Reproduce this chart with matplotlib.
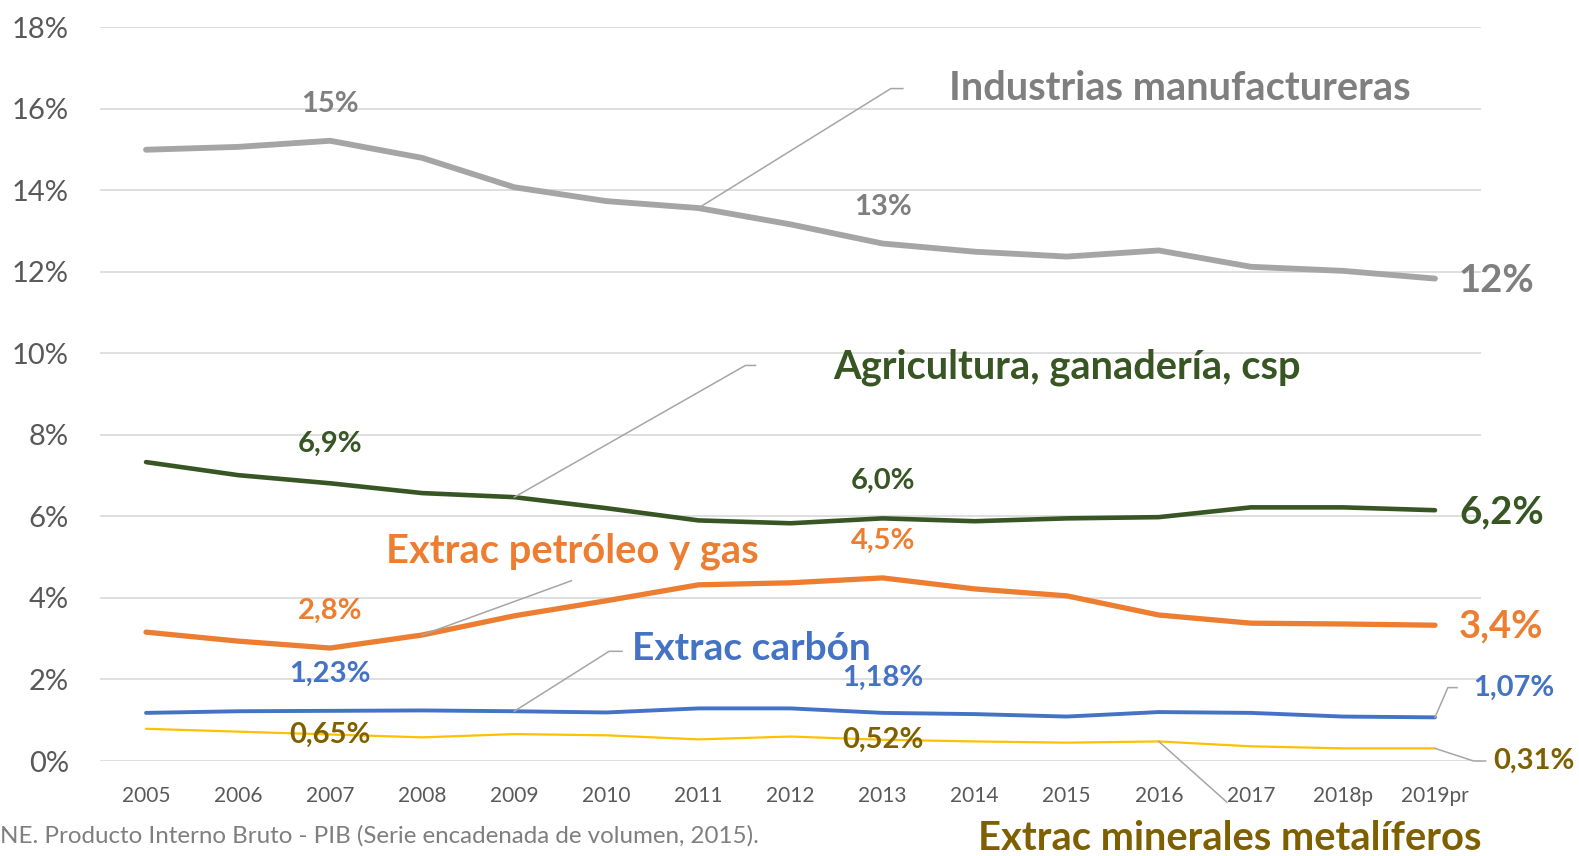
import matplotlib
matplotlib.use("Agg")
import matplotlib.pyplot as plt

years = ["2005", "2006", "2007", "2008", "2009", "2010", "2011", "2012",
         "2013", "2014", "2015", "2016", "2017", "2018p", "2019pr"]

manufactura = [14.99, 15.06, 15.21, 14.79, 14.07, 13.73, 13.56, 13.16,
               12.69, 12.49, 12.37, 12.52, 12.12, 12.02, 11.83]
agricultura = [7.33, 7.01, 6.81, 6.57, 6.47, 6.20, 5.90, 5.83,
               5.95, 5.88, 5.95, 5.98, 6.22, 6.22, 6.15]
petroleo = [3.16, 2.94, 2.77, 3.09, 3.56, 3.93, 4.32, 4.37,
            4.49, 4.22, 4.05, 3.58, 3.38, 3.36, 3.33]
carbon = [1.18, 1.22, 1.23, 1.24, 1.22, 1.19, 1.29, 1.29,
          1.18, 1.15, 1.09, 1.20, 1.18, 1.09, 1.07]
minerales = [0.79, 0.72, 0.65, 0.58, 0.66, 0.63, 0.53, 0.60,
             0.52, 0.48, 0.45, 0.48, 0.36, 0.31, 0.31]

labels_manuf = ["15%", "13%", "12%"]
labels_agri = ["6,9%", "6,0%", "6,2%"]
labels_petro = ["2,8%", "4,5%", "3,4%"]
labels_carbon = ["1,23%", "1,18%", "1,07%"]
labels_miner = ["0,65%", "0,52%", "0,31%"]

yticks = [0, 2, 4, 6, 8, 10, 12, 14, 16, 18]
ytick_labels = [f"{t}%" for t in yticks]

fuente = "NE. Producto Interno Bruto - PIB (Serie encadenada de volumen, 2015)."

GRIS = "#A5A5A5"
GRIS_TXT = "#7F7F7F"
VERDE = "#375623"
NARANJA = "#ED7D31"
AZUL = "#4472C4"
AMARILLO = "#FFC000"
OLIVA = "#7F6000"
LEADER = "#A6A6A6"

plt.rcParams["font.family"] = ["Lato", "DejaVu Sans"]

fig = plt.figure(figsize=(15.79, 8.56), dpi=100)
ax = fig.add_axes([100 / 1579, 1 - 761 / 856, (1481 - 100) / 1579, (761 - 27) / 856])

x = list(range(len(years)))
ax.plot(x, manufactura, color=GRIS, lw=4.2, solid_capstyle="round", zorder=3)
ax.plot(x, agricultura, color=VERDE, lw=3.3, solid_capstyle="round", zorder=3)
ax.plot(x, petroleo, color=NARANJA, lw=3.8, solid_capstyle="round", zorder=3)
ax.plot(x, carbon, color=AZUL, lw=2.8, solid_capstyle="round", zorder=3)
ax.plot(x, minerales, color=AMARILLO, lw=1.6, solid_capstyle="round", zorder=3)

ax.set_xlim(-0.5, len(years) - 0.5)
ax.set_ylim(0, 18)
ax.set_yticks(yticks)
ax.set_yticklabels(ytick_labels)
ax.set_xticks(x)
ax.set_xticklabels(years)
ax.tick_params(axis="y", length=0, pad=22.5, labelsize=21, labelcolor="#595959")
ax.tick_params(axis="x", length=0, pad=18, labelsize=15, labelcolor="#595959")
ax.grid(axis="y", color="#D9D9D9", lw=1.2)
ax.set_axisbelow(True)
for s in ax.spines.values():
    s.set_visible(False)


def etiquetas(serie, textos, color, dys, last_size=27.5):
    for k, i in enumerate([2, 8]):
        ax.annotate(textos[k], xy=(i, serie[i]), xytext=(0, dys[k]),
                    textcoords="offset pixels", ha="center", va="center",
                    fontsize=21, fontweight="bold", color=color, zorder=5)
    if last_size:
        ax.annotate(textos[2], xy=(14, serie[14]), xytext=(24, dys[2]),
                    textcoords="offset pixels", ha="left", va="center",
                    fontsize=last_size, fontweight="bold", color=color,
                    annotation_clip=False, zorder=5)


etiquetas(manufactura, labels_manuf, GRIS_TXT, [37, 37, -2])
etiquetas(agricultura, labels_agri, VERDE, [39, 38, -2])
etiquetas(petroleo, labels_petro, NARANJA, [37, 37, -1])
etiquetas(carbon, labels_carbon, AZUL, [37, 35, 0], last_size=0)
etiquetas(minerales, labels_miner, OLIVA, [0, 0, 0], last_size=0)


def nombre(texto, color, i, serie, codo, fin, pos, size=28.7):
    xs = [i, codo[0]] + ([fin] if fin is not None else [])
    ys = [serie[i], codo[1]] + ([codo[1]] if fin is not None else [])
    ax.plot(xs, ys, color=LEADER, lw=1.1, zorder=4, clip_on=False)
    ax.text(pos[0], pos[1], texto, color=color, fontsize=size,
            fontweight="bold", ha="center", va="center", clip_on=False)


nombre("Industrias manufactureras", GRIS_TXT, 6, manufactura,
       (8.09, 16.49), 8.22, (11.23, 16.49))
nombre("Agricultura, ganadería, csp", VERDE, 4, agricultura,
       (6.51, 9.70), 6.62, (10.0, 9.65))
nombre("Extrac petróleo y gas", NARANJA, 3, petroleo,
       (4.62, 4.42), None, (4.63, 5.14))
nombre("Extrac carbón", AZUL, 4, carbon,
       (5.03, 2.69), 5.17, (6.57, 2.76), size=28)
nombre("Extrac minerales metalíferos", OLIVA, 11, minerales,
       (11.74, -1.01), None, (11.77, -1.90))

# etiquetas finales con guía
ax.plot([14, 14.14, 14.24], [carbon[14], 1.80, 1.80], color=LEADER, lw=1.1,
        clip_on=False, zorder=4)
ax.text(14.42, 1.80, labels_carbon[2], color=AZUL, fontsize=21,
        fontweight="bold", ha="left", va="center", clip_on=False)
ax.plot([14, 14.42, 14.55], [minerales[14], 0.0, 0.0], color=LEADER, lw=1.1,
        clip_on=False, zorder=4)
ax.text(14.63, 0.0, labels_miner[2], color=OLIVA, fontsize=21,
        fontweight="bold", ha="left", va="center", clip_on=False)

fig.text(0, 1 - 836 / 856, fuente, color="#7F7F7F", fontsize=17.4,
         ha="left", va="center")

fig.savefig("out.png", dpi=100)
